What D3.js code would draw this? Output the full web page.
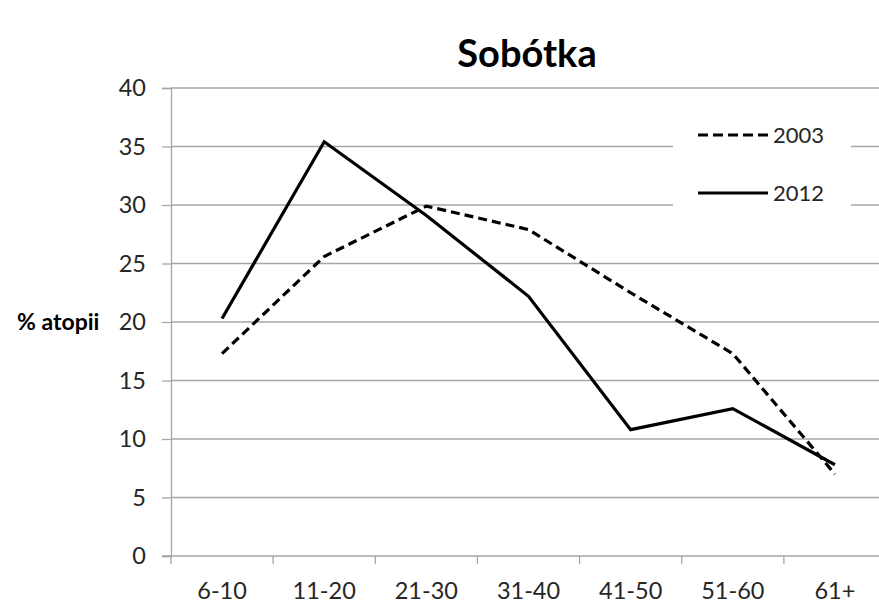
<!DOCTYPE html>
<html><head><meta charset="utf-8">
<script src="https://cdn.jsdelivr.net/npm/d3@7"></script>
<style>body{margin:0;background:#fff}svg{display:block}</style>
</head><body>
<svg id="c" width="879" height="603"></svg>
<script>
const categories = ["6-10","11-20","21-30","31-40","41-50","51-60","61+"];
const series2003 = [17.3, 25.6, 29.9, 27.9, 22.5, 17.3, 7.0];
const series2012 = [20.3, 35.4, 29.1, 22.2, 10.8, 12.6, 7.8];
const yTicks = [0,5,10,15,20,25,30,35,40];
const seriesNames = ["2003","2012"];

const svg = d3.select("#c");
const font = "Lato, 'Open Sans', sans-serif";
const x = d3.scaleBand().domain(categories).range([171, 886]);
const y = d3.scaleLinear().domain([0,40]).range([556, 88]);
const grid = "#a6a6a6";

// gridlines
svg.append("g").selectAll("line").data(yTicks.filter(d=>d>0)).join("line")
  .attr("x1",171).attr("x2",886).attr("y1",d=>y(d)).attr("y2",d=>y(d))
  .attr("stroke",grid).attr("stroke-width",1.3);

// y axis
const ya = svg.append("g").attr("transform","translate(171,0)")
  .call(d3.axisLeft(y).tickValues(yTicks).tickSize(9).tickPadding(16));
ya.select(".domain").attr("stroke",grid).attr("stroke-width",1.3);
ya.selectAll(".tick line").attr("stroke",grid).attr("stroke-width",1.3);
ya.selectAll("text").attr("font-family",font).attr("font-size",23.5).attr("fill","#262626");

// x axis
const xa = svg.append("g").attr("transform","translate(0,556)")
  .call(d3.axisBottom(x).tickSize(0).tickPadding(26));
xa.select(".domain").remove();
xa.append("line").attr("x1",162).attr("x2",886).attr("stroke",grid).attr("stroke-width",1.3);
xa.selectAll(".tick text").attr("font-family",font).attr("font-size",23.5).attr("fill","#262626");
svg.append("g").selectAll("line").data(categories.concat(["_end"])).join("line")
  .attr("x1",(d,i)=>171+i*x.step()).attr("x2",(d,i)=>171+i*x.step())
  .attr("y1",556).attr("y2",564).attr("stroke",grid).attr("stroke-width",1.3);

const line = d3.line().x((d,i)=>x(categories[i])+x.bandwidth()/2).y(d=>y(d));

// legend background
svg.append("rect").attr("x",673).attr("y",110).attr("width",178).attr("height",110).attr("fill","#fff");

svg.append("path").datum(series2003).attr("d",line).attr("fill","none")
  .attr("stroke","#000").attr("stroke-width",3.2).attr("stroke-dasharray","9,5");
svg.append("path").datum(series2012).attr("d",line).attr("fill","none")
  .attr("stroke","#000").attr("stroke-width",3.2);

// legend
const leg = svg.append("g");
[0,1].forEach(i=>{
  const cy = i===0 ? 135 : 193;
  leg.append("line").attr("x1",698).attr("x2",768).attr("y1",cy).attr("y2",cy)
    .attr("stroke","#000").attr("stroke-width",3.2)
    .attr("stroke-dasharray", i===0 ? "10,5" : null);
  leg.append("text").attr("x",773).attr("y",cy).attr("dy","0.35em")
    .attr("font-family",font).attr("font-size",22).attr("fill","#262626").text(seriesNames[i]);
});

// title
svg.append("text").attr("x",527).attr("y",67).attr("text-anchor","middle")
  .attr("font-family",font).attr("font-weight","bold").attr("font-size",38).attr("fill","#000").text("Sobótka");

// y label
svg.append("text").attr("x",17).attr("y",322).attr("dy","0.35em")
  .attr("font-family",font).attr("font-weight","bold").attr("font-size",23).attr("fill","#000").text("% atopii");
</script>
</body></html>
